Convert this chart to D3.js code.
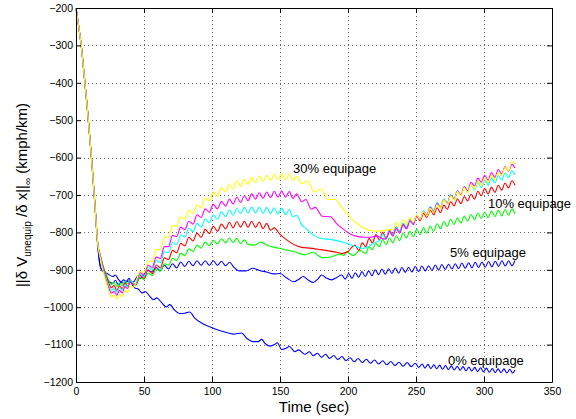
<!DOCTYPE html>
<html>
<head>
<meta charset="utf-8">
<script src="https://cdn.jsdelivr.net/npm/d3@7"></script>
<style>
  body { margin: 0; background: #fff; }
  svg { display: block; }
  text { font-family: "Liberation Sans", Arial, Helvetica, sans-serif; fill: #000; }
</style>
</head>
<body>
<svg id="chart" width="576" height="419"></svg>
<script>
// Axis ticks
const xTicks = [0, 50, 100, 150, 200, 250, 300, 350];
const yTicks = [-1200, -1100, -1000, -900, -800, -700, -600, -500, -400, -300, -200];

// Shared initial transient (time in s, value in kmph/km)
const commonStart = [[0,-200],[2,-250],[4,-305],[6,-380],[8,-455],[10,-540],[12,-630],[14,-730]];

// 0% equipage
const eq0 = [[16,-835],[18,-893],[20,-905],[23,-910],[27,-918],[29,-914],[31,-925],[35.5,-936],[39,-930],[43,-948],[46,-952],[48.5,-962],[51,-958],[54,-970],[57,-980],[59.5,-975],[62.5,-986],[66.5,-999],[69,-993],[72.5,-1008],[76,-1017],[80,-1016],[83.5,-1013],[87.5,-1030],[93.6,-1045],[101,-1056],[108,-1065],[115.7,-1072],[121.8,-1069],[125.5,-1083],[130.4,-1092],[134,-1092],[136.5,-1086],[139,-1097],[142.6,-1104],[146.3,-1099],[148,-1095],[151.2,-1113],[154.4,-1110],[156.9,-1105],[161,-1119],[163.5,-1114],[168.4,-1126],[171.6,-1119],[174.5,-1130],[177.5,-1123],[180.5,-1134],[183.5,-1126],[186.5,-1137],[189.5,-1129],[192.5,-1140],[195.5,-1132],[198.5,-1143],[201.5,-1135],[204.5,-1146],[207.5,-1137],[210.5,-1148],[213.5,-1139],[216.5,-1150],[219.5,-1141],[222.5,-1152],[225.5,-1143],[228.5,-1154],[231.5,-1145],[234.5,-1156],[237.5,-1147],[240.5,-1158],[243.5,-1148],[246.5,-1159],[249.5,-1150],[252,-1161],[254.5,-1152],[256.6,-1163],[258.8,-1153],[260.9,-1164],[263.1,-1154],[265.2,-1165],[267.4,-1155],[269.5,-1166],[271.7,-1156],[273.8,-1167],[276,-1157],[278.1,-1168],[280.3,-1158],[282.4,-1169],[284.6,-1159],[286.7,-1170],[288.9,-1160],[291,-1171],[293.2,-1161],[295.3,-1172],[297.5,-1162],[299.6,-1173],[301.8,-1163],[303.9,-1174],[306.1,-1164],[308.2,-1175],[310.4,-1165],[312.5,-1175],[314.7,-1165],[316.8,-1176],[319,-1166],[321.1,-1176],[322.8,-1168]];

// 5% equipage
const eq5 = [[16,-835],[18,-893],[20,-905],[22,-918],[24.5,-932],[27,-936],[29,-928],[31,-940],[33,-934],[35,-927],[37,-931],[39,-923],[41,-934],[43,-930],[45,-919],[47,-924],[50,-912],[53,-902],[56,-906],[59,-894],[62,-902],[65,-888],[68,-898],[71,-884],[74,-895],[77,-879],[80,-891],[83,-877],[86,-889],[89,-876],[92,-888],[95,-876],[98,-888],[101,-876],[104,-888],[107,-877],[110,-889],[113,-880],[116,-893],[120,-903],[125,-903],[130,-896],[135,-902],[140,-906],[145,-911],[150,-910],[155,-922],[160,-932],[164,-925],[167,-918],[171,-928],[174.5,-934],[178,-924],[180.6,-914],[184,-922],[188,-927],[192,-920],[195.3,-914],[198,-925],[200.5,-910],[202.9,-923],[205.4,-908],[207.8,-920],[210.3,-905],[212.7,-918],[215.2,-903],[217.6,-916],[220,-900],[222.5,-913],[225,-898],[227.4,-912],[229.9,-897],[232.3,-910],[234.8,-895],[237.2,-909],[239.7,-894],[242.1,-907],[244.6,-893],[247,-906],[249.5,-891],[251.9,-905],[254.4,-890],[256.8,-903],[259.3,-889],[261.7,-902],[264.2,-887],[266.6,-901],[269,-886],[271.5,-899],[274,-885],[276.4,-898],[278.9,-884],[281.3,-897],[283.8,-882],[286.2,-896],[288.7,-881],[291.1,-895],[293.6,-880],[296,-894],[298.5,-879],[300.9,-893],[303.4,-878],[305.8,-892],[308.3,-877],[310.7,-891],[313.2,-876],[315.6,-890],[318.1,-876],[320.5,-889],[322.8,-875]];

// 10% equipage
const eq10 = [[16,-830],[18,-862],[20,-890],[22,-910],[24,-928],[26,-940],[28,-933],[30,-945],[32,-935],[34,-942],[36,-930],[38,-938],[40,-928],[42,-936],[44,-941],[47,-921],[50,-926],[53,-909],[56,-916],[59,-898],[62,-904],[65,-884],[68,-888],[71,-869],[74,-875],[77,-856],[80,-862],[83,-844],[86,-851],[89,-834],[92,-842],[95,-826],[98,-835],[101,-821],[104,-831],[107,-817],[110,-828],[112.75,-815],[115.5,-827],[118.25,-816],[121,-830],[123.75,-820],[126.5,-832],[131,-834],[136,-826],[141,-835],[146,-840],[150,-843],[156,-848],[162,-853],[168,-860],[174.5,-853],[178,-862],[182,-868],[187,-866],[194,-858],[197,-862],[199,-852],[204,-862],[208.8,-848],[213,-856],[215.5,-838],[218,-846],[220.5,-829],[223,-838],[225.5,-819],[228,-833],[230.5,-815],[233,-828],[235.5,-809],[238,-822],[240.5,-802],[243,-815],[245.5,-797],[248,-811],[250.5,-792],[253,-806],[255.5,-788],[258,-802],[260.5,-783],[263,-797],[265.5,-777],[268,-790],[270.5,-771],[273,-784],[275.5,-765],[278,-779],[280.5,-761],[283,-775],[285.5,-756],[288,-770],[290.5,-752],[293,-766],[295.5,-748],[298,-763],[300.5,-746],[303,-761],[305.5,-743],[308,-758],[310.5,-741],[313,-756],[315.5,-739],[318,-754],[320.5,-737],[322.8,-750]];

// 15% equipage
const eq15 = [[16,-830],[18,-864],[20,-893],[22,-915],[24,-935],[26,-948],[28,-942],[30,-955],[32,-943],[34,-950],[36,-936],[38,-944],[40,-930],[42,-938],[44,-940],[47,-915],[50,-923],[53,-900],[56,-910],[59,-887],[62,-895],[65,-868],[68,-873],[71,-848],[74,-855],[77,-829],[80,-836],[83,-813],[86,-823],[89,-802],[92,-813],[95,-792],[98,-803],[101,-784],[104,-797],[107,-778],[110,-791],[112.75,-773],[115.5,-788],[118.25,-771],[121,-786],[123.75,-770],[126.5,-786],[129.25,-770],[132,-787],[134.75,-772],[137.5,-790],[140.25,-776],[143,-794],[145.75,-788],[150,-805],[155,-820],[160,-832],[166,-840],[172,-842],[178,-845],[184,-848],[190,-852],[196,-856],[200,-851],[205,-834],[208,-848],[210.5,-828],[213,-838],[215.5,-816],[218,-828],[220.5,-806],[223,-820],[225.5,-800],[228,-815],[230.5,-795],[233,-806],[235.5,-786],[238,-798],[240.5,-778],[243,-789],[245.5,-766],[248,-776],[250.5,-757],[253,-769],[255.5,-749],[258,-760],[260.5,-740],[263,-753],[265.5,-734],[268,-747],[270.5,-727],[273,-738],[275.5,-718],[278,-729],[280.5,-710],[283,-723],[285.5,-704],[288,-716],[290.5,-698],[293,-711],[295.5,-690],[298,-702],[300.5,-683],[303,-697],[305.5,-679],[308,-693],[310.5,-674],[313,-687],[315.5,-668],[318,-681],[320.5,-662],[322.8,-674]];

// 20% equipage
const eq20 = [[16,-830],[18,-866],[20,-897],[22,-920],[24,-942],[26,-955],[28,-950],[30,-960],[32,-948],[34,-955],[36,-940],[38,-946],[40,-930],[42,-936],[44,-938],[47,-912],[50,-918],[53,-893],[56,-901],[59,-875],[62,-881],[65,-852],[68,-854],[71,-827],[74,-833],[77,-807],[80,-813],[83,-789],[86,-798],[89,-776],[92,-786],[95,-764],[98,-774],[101,-753],[104,-765],[107,-745],[110,-758],[112.75,-740],[115.5,-754],[118.25,-736],[121,-750],[123.75,-733],[126.5,-748],[129.25,-732],[132,-748],[134.75,-732],[137.5,-749],[140.25,-733],[143,-750],[145.75,-734],[148.5,-751],[151.25,-735],[154,-753],[156.75,-739],[159.5,-758],[162.25,-754],[166,-780],[169,-789],[172,-800],[179,-815],[189,-820],[199,-829],[206,-838],[211,-843],[215,-838],[219,-828],[223,-822],[225.5,-805],[228,-817],[230.5,-797],[233,-808],[235.5,-786],[238,-797],[240.5,-775],[243,-786],[245.5,-766],[248,-776],[250.5,-754],[253,-764],[255.5,-742],[258,-752],[260.5,-731],[263,-741],[265.5,-720],[268,-731],[270.5,-710],[273,-720],[275.5,-699],[278,-709],[280.5,-689],[283,-700],[285.5,-679],[288,-692],[290.5,-673],[293,-686],[295.5,-667],[298,-680],[300.5,-661],[303,-674],[305.5,-655],[308,-668],[310.5,-648],[313,-660],[315.5,-641],[318,-654],[320.5,-635],[322.8,-646]];

// 25% equipage
const eq25 = [[16,-830],[18,-868],[20,-900],[22,-925],[24,-948],[26,-962],[28,-958],[30,-968],[32,-955],[34,-962],[36,-945],[38,-950],[40,-932],[42,-940],[44,-936],[47,-908],[50,-913],[53,-888],[56,-894],[59,-866],[62,-870],[65,-838],[68,-838],[71,-808],[74,-811],[77,-786],[80,-793],[83,-770],[86,-778],[89,-753],[92,-760],[95,-737],[98,-746],[101,-725],[104,-737],[107,-717],[110,-730],[112.75,-711],[115.5,-724],[118.25,-706],[121,-720],[123.75,-702],[126.5,-715],[129.25,-697],[132,-711],[134.75,-694],[137.5,-709],[140.25,-692],[143,-707],[145.75,-690],[148.5,-706],[151.25,-689],[154,-706],[156.75,-691],[159.5,-709],[162.25,-697],[166,-718],[169,-712],[173,-738],[176,-733],[181,-757],[187,-758],[192,-778],[196,-790],[201,-803],[206,-810],[211,-813],[216,-813],[221,-810],[225,-816],[228,-818],[230.5,-798],[233,-810],[235.5,-790],[238,-802],[240.5,-780],[243,-791],[245.5,-769],[248,-779],[250.5,-756],[253,-766],[255.5,-744],[258,-754],[260.5,-733],[263,-744],[265.5,-723],[268,-734],[270.5,-712],[273,-723],[275.5,-701],[278,-711],[280.5,-689],[283,-700],[285.5,-678],[288,-689],[290.5,-666],[293,-676],[295.5,-655],[298,-666],[300.5,-647],[303,-660],[305.5,-640],[308,-653],[310.5,-632],[313,-644],[315.5,-624],[318,-637],[320.5,-618],[322.8,-628]];

// 30% equipage
const eq30 = [[16,-830],[18,-870],[20,-905],[22,-930],[24,-955],[26,-972],[28,-968],[30,-978],[32,-966],[34,-972],[36,-955],[38,-960],[40,-940],[42,-948],[44,-933],[47,-904],[50,-908],[53,-877],[56,-878],[59,-846],[62,-846],[65,-813],[68,-812],[71,-782],[74,-784],[77,-758],[80,-764],[83,-741],[86,-750],[89,-726],[92,-734],[95,-708],[98,-715],[101,-693],[104,-703],[107,-681],[110,-692],[112.75,-672],[115.5,-684],[118.25,-662],[121,-677],[123.75,-658],[126.5,-671],[129.25,-653],[132,-667],[134.75,-650],[137.5,-664],[140.25,-647],[143,-661],[145.75,-644],[148.5,-659],[151.25,-643],[154,-659],[156.75,-644],[159.5,-661],[162.5,-650],[166,-670],[170.5,-662],[175,-692],[180,-684],[185.5,-712],[191,-712],[195,-732],[199,-748],[203,-765],[207,-777],[211,-787],[216,-794],[221,-797],[226,-796],[230,-792],[233,-793],[235.5,-773],[238,-785],[240.5,-766],[243,-779],[245.5,-760],[248,-773],[250.5,-753],[253,-765],[255.5,-744],[258,-756],[260.5,-735],[263,-747],[265.5,-726],[268,-735],[270.5,-713],[273,-724],[275.5,-702],[278,-713],[280.5,-691],[283,-702],[285.5,-681],[288,-693],[290.5,-672],[293,-684],[295.5,-663],[298,-675],[300.5,-655],[303,-667],[305.5,-647],[308,-659],[310.5,-639],[313,-648],[315.5,-625],[318,-636],[320.5,-611],[322.8,-618]];

const seriesColors = ["#0000ff", "#0000ff", "#00ff00", "#ff0000", "#00ffff", "#ff00ff", "#ffff00"];
const seriesData = [eq0, eq5, eq10, eq15, eq20, eq25, eq30];

// Curve labels: text and anchor point (time, value)
const labelTexts = ["30% equipage", "10% equipage", "5% equipage", "0% equipage"];
const labelTimes = [159.6, 302.9, 275.0, 273.5];
const labelValues = [-641, -735, -866, -1155];

const W = 576, H = 419;
const plot = { left: 76, right: 552, top: 8, bottom: 382 };

const svg = d3.select("#chart");
svg.append("rect").attr("width", W).attr("height", H).attr("fill", "#fff");

const x = d3.scaleLinear().domain([0, 350]).range([plot.left, plot.right]);
const y = d3.scaleLinear().domain([-1200, -200]).range([plot.bottom, plot.top]);

// Dotted grid
const grid = svg.append("g").attr("stroke", "#666").attr("stroke-width", 1)
  .attr("stroke-dasharray", "1,3").attr("fill", "none");
xTicks.slice(1, -1).forEach(t => {
  grid.append("line").attr("x1", x(t) + 0.5).attr("x2", x(t) + 0.5)
    .attr("y1", plot.top).attr("y2", plot.bottom);
});
yTicks.slice(1, -1).forEach(v => {
  grid.append("line").attr("y1", Math.round(y(v)) + 0.5).attr("y2", Math.round(y(v)) + 0.5)
    .attr("x1", plot.left).attr("x2", plot.right);
});

// Data lines
const line = d3.line().x(d => x(d[0])).y(d => y(d[1])).curve(d3.curveMonotoneX);
const lines = svg.append("g").attr("fill", "none").attr("stroke-width", 1.1)
  .attr("stroke-linejoin", "round");
seriesData.forEach((s, i) => {
  lines.append("path").attr("d", line(commonStart.concat(s))).attr("stroke", seriesColors[i]);
});

// Axes (ticks pointing inward, box on all four sides)
const fmt = d => (d < 0 ? "\u2212" : "") + Math.abs(d);
const axB = svg.append("g").attr("transform", `translate(0,${plot.bottom})`)
  .call(d3.axisBottom(x).tickValues(xTicks).tickSize(-5).tickSizeOuter(0).tickPadding(6).tickFormat(fmt));
const axL = svg.append("g").attr("transform", `translate(${plot.left},0)`)
  .call(d3.axisLeft(y).tickValues(yTicks).tickSize(-5).tickSizeOuter(0).tickPadding(3).tickFormat(fmt));
const axT = svg.append("g").attr("transform", `translate(0,${plot.top})`)
  .call(d3.axisTop(x).tickValues(xTicks).tickSize(-5).tickSizeOuter(0).tickFormat(""));
const axR = svg.append("g").attr("transform", `translate(${plot.right},0)`)
  .call(d3.axisRight(y).tickValues(yTicks).tickSize(-5).tickSizeOuter(0).tickFormat(""));
[axB, axL, axT, axR].forEach(a => {
  a.selectAll("path.domain").attr("stroke", "#000").attr("stroke-width", 1);
  a.selectAll(".tick line").attr("stroke", "#000");
  a.selectAll("text").attr("font-size", "10.5px")
    .attr("font-family", '"Liberation Sans", Arial, Helvetica, sans-serif').attr("fill", "#000");
});

// Curve labels
labelTexts.forEach((t, i) => {
  svg.append("text").attr("x", x(labelTimes[i])).attr("y", y(labelValues[i]))
    .attr("font-size", "13px").text(t);
});

// Axis titles
svg.append("text").attr("x", (plot.left + plot.right) / 2).attr("y", 412)
  .attr("text-anchor", "middle").attr("font-size", "15px").text("Time (sec)");

const yt = svg.append("text").attr("transform", `translate(27,${(plot.top + plot.bottom) / 2}) rotate(-90)`)
  .attr("text-anchor", "middle").attr("font-size", "15px");
yt.append("tspan").text("||δ V");
yt.append("tspan").attr("dy", 4).attr("font-size", "10px").text("unequip");
yt.append("tspan").attr("dy", -4).text(" /δ x||");
yt.append("tspan").attr("dy", 4).attr("font-size", "10px").text("∞");
yt.append("tspan").attr("dy", -4).text("  (kmph/km)");
</script>
</body>
</html>
